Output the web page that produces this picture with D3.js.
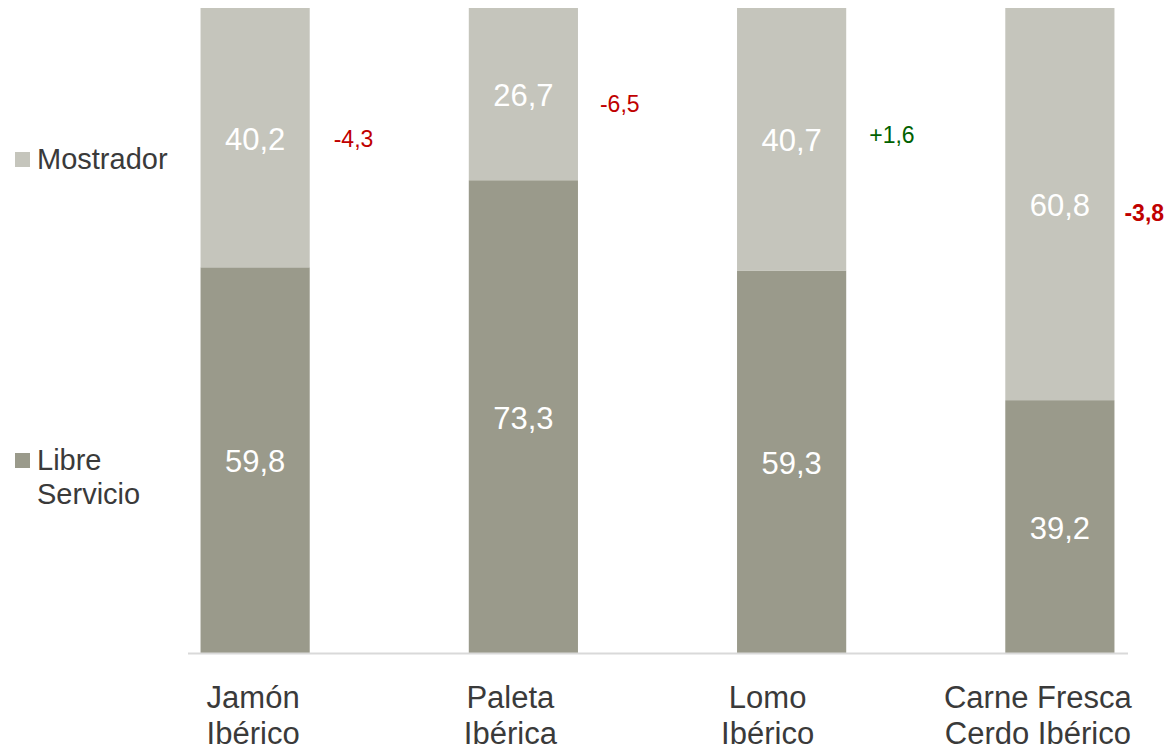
<!DOCTYPE html>
<html>
<head>
<meta charset="utf-8">
<script src="https://cdn.jsdelivr.net/npm/d3@7"></script>
<style>
body { margin: 0; background: #fff; }
svg { font-family: "Liberation Sans", Arial, sans-serif; }
</style>
</head>
<body>
<svg id="chart" width="1168" height="748"></svg>
<script>
var categories = ["Jamón Ibérico", "Paleta Ibérica", "Lomo Ibérico", "Carne Fresca Cerdo Ibérico"];
var catLines = [["Jamón", "Ibérico"], ["Paleta", "Ibérica"], ["Lomo", "Ibérico"], ["Carne Fresca", "Cerdo Ibérico"]];
var libreServicio = [59.8, 73.3, 59.3, 39.2];
var mostrador = [40.2, 26.7, 40.7, 60.8];
var changes = [-4.3, -6.5, 1.6, -3.8];
var changeBold = [false, false, false, true];
var seriesNames = ["Mostrador", "Libre Servicio"];

var colMostrador = "#c5c5bc";
var colLibre = "#9a9a8b";
var textCol = "#3a3a3a";

function fmt(v) {
    return v.toFixed(1).replace(".", ",");
}
function fmtChange(v) {
    return (v > 0 ? "+" : "") + fmt(v);
}

d3.select(window).on('load', init);

function init() {
    var svg = d3.select('#chart');

    var x = d3.scaleBand()
        .domain(categories)
        .range([121, 1194])
        .paddingInner(0.593)
        .paddingOuter(0.2965);

    var y = d3.scaleLinear()
        .domain([0, 100])
        .range([653, 8]);

    var data = categories.map(function(c, i) {
        return {cat: c, libre: libreServicio[i], most: mostrador[i], ch: changes[i], bold: changeBold[i]};
    });

    var g = svg.selectAll(".bar")
        .data(data)
        .enter()
        .append("g")
        .attr("class", "bar");

    // libre servicio (abajo)
    g.append("rect")
        .attr("x", function(d) { return x(d.cat); })
        .attr("width", x.bandwidth())
        .attr("y", function(d) { return y(d.libre); })
        .attr("height", function(d) { return y(0) - y(d.libre); })
        .style("fill", colLibre);

    // mostrador (arriba)
    g.append("rect")
        .attr("x", function(d) { return x(d.cat); })
        .attr("width", x.bandwidth())
        .attr("y", function(d) { return y(d.libre + d.most); })
        .attr("height", function(d) { return y(d.libre) - y(d.libre + d.most); })
        .style("fill", colMostrador);

    // etiquetas de valor
    g.append("text")
        .attr("x", function(d) { return x(d.cat) + x.bandwidth() / 2; })
        .attr("y", function(d) { return (y(0) + y(d.libre)) / 2 + 12; })
        .attr("text-anchor", "middle")
        .style("font-size", "31px")
        .style("fill", "#fff")
        .text(function(d) { return fmt(d.libre); });

    g.append("text")
        .attr("x", function(d) { return x(d.cat) + x.bandwidth() / 2; })
        .attr("y", function(d) { return (y(d.libre) + y(d.libre + d.most)) / 2 + 12; })
        .attr("text-anchor", "middle")
        .style("font-size", "31px")
        .style("fill", "#fff")
        .text(function(d) { return fmt(d.most); });

    // variaciones
    var chOffX = [24, 22, 23, 10];
    var chOffY = [9, 18, 4, 17];
    g.append("text")
        .attr("x", function(d, i) { return x(d.cat) + x.bandwidth() + chOffX[i]; })
        .attr("y", function(d, i) { return (y(d.libre) + y(d.libre + d.most)) / 2 + chOffY[i]; })
        .style("font-size", "23px")
        .style("font-weight", function(d) { return d.bold ? "bold" : "normal"; })
        .style("fill", function(d) { return d.ch > 0 ? "#006100" : "#c00000"; })
        .text(function(d) { return fmtChange(d.ch); });

    // eje x
    var xAxis = d3.axisBottom(x).tickSize(0).tickFormat("");
    var ax = svg.append("g")
        .attr("transform", "translate(0," + y(0) + ")")
        .call(xAxis);
    ax.select(".domain").remove();

    svg.append("line")
        .attr("x1", 188)
        .attr("x2", 1128)
        .attr("y1", y(0) + 0.5)
        .attr("y2", y(0) + 0.5)
        .style("stroke", "#d9d9d9")
        .style("stroke-width", "2");

    var labOffX = [-2, -13, -24, -22];
    ax.selectAll(".tick text").remove();
    ax.selectAll(".tick")
        .append("text")
        .attr("text-anchor", "middle")
        .style("font-size", "31px")
        .style("fill", textCol)
        .each(function(d, i) {
            var t = d3.select(this);
            catLines[i].forEach(function(line, j) {
                t.append("tspan")
                    .attr("x", labOffX[i])
                    .attr("y", 55 + j * 36)
                    .text(line);
            });
        });

    // leyenda
    var legY = [152, 453];
    var leg = svg.selectAll(".legend")
        .data(seriesNames)
        .enter()
        .append("g")
        .attr("class", "legend")
        .attr("transform", function(d, i) { return "translate(15," + legY[i] + ")"; });

    leg.append("rect")
        .attr("width", 15)
        .attr("height", 15)
        .style("fill", function(d, i) { return i == 0 ? colMostrador : colLibre; });

    leg.append("text")
        .style("font-size", "29px")
        .style("fill", textCol)
        .each(function(d) {
            var t = d3.select(this);
            d.split(" ").forEach(function(w, j) {
                t.append("tspan")
                    .attr("x", 22)
                    .attr("y", 17 + j * 34)
                    .text(w);
            });
        });
}
</script>
</body>
</html>
